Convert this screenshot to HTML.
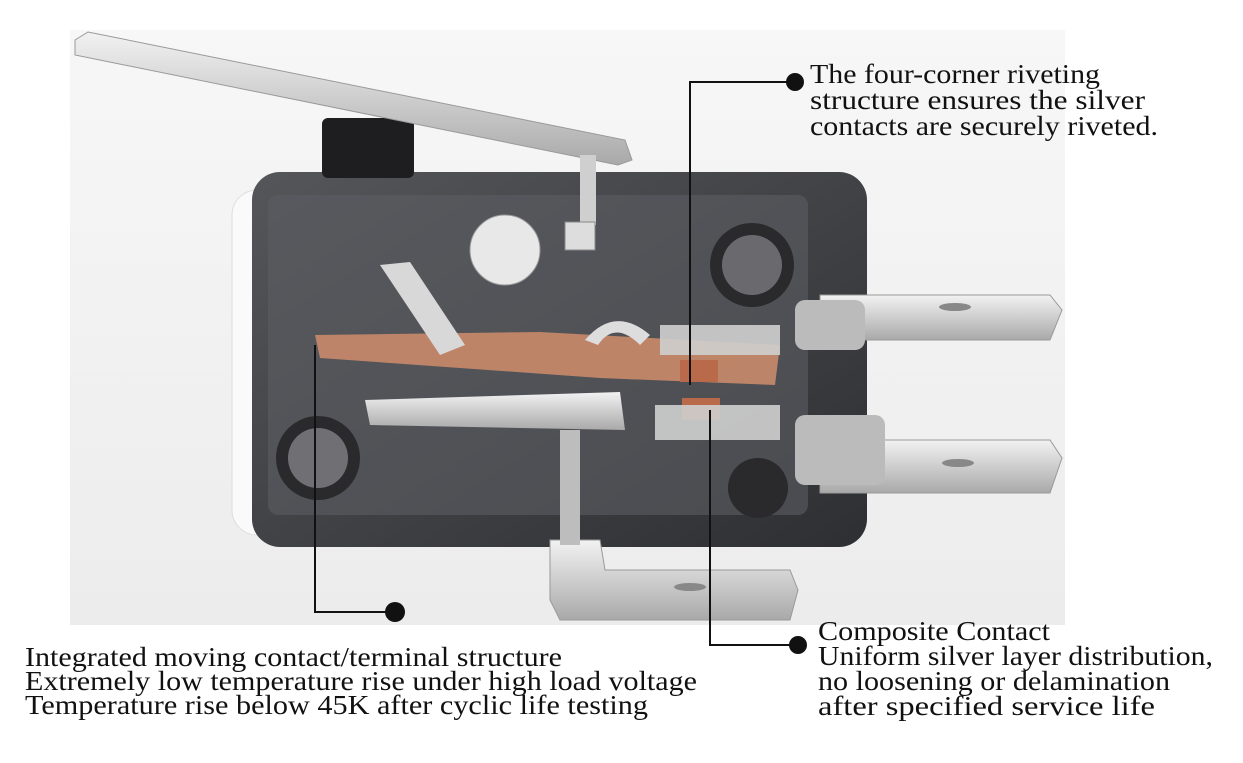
<!DOCTYPE html>
<html><head><meta charset="utf-8"><style>
html,body{margin:0;padding:0;background:#fff;}
svg{display:block;}
text{font-family:"Liberation Serif",serif;font-size:27px;fill:#111;}
</style></head><body>
<svg width="1243" height="763" viewBox="0 0 1243 763" xmlns="http://www.w3.org/2000/svg">
<defs>
<linearGradient id="bg" x1="0" y1="0" x2="0" y2="1"><stop offset="0" stop-color="#f7f7f7"/><stop offset="1" stop-color="#ececec"/></linearGradient>
<linearGradient id="body" x1="0" y1="0" x2="1" y2="1"><stop offset="0" stop-color="#55565a"/><stop offset="1" stop-color="#2e2f33"/></linearGradient>
<linearGradient id="metal" x1="0" y1="0" x2="0" y2="1"><stop offset="0" stop-color="#f2f2f2"/><stop offset="1" stop-color="#a9a9a9"/></linearGradient>
</defs>
<rect x="70" y="30" width="995" height="595" fill="url(#bg)"/>
<!-- white side shell -->
<rect x="232" y="190" width="60" height="345" rx="25" fill="#fafafa" stroke="#ddd"/>
<!-- body -->
<rect x="252" y="172" width="615" height="375" rx="28" fill="url(#body)"/>
<rect x="268" y="195" width="540" height="320" rx="10" fill="#5c5d62" opacity="0.6"/>
<!-- plunger -->
<rect x="322" y="118" width="92" height="60" rx="6" fill="#1e1e20"/>
<!-- lever -->
<polygon points="75,40 88,32 625,140 632,160 618,165 75,55" fill="url(#metal)" stroke="#999"/>
<rect x="580" y="155" width="16" height="70" fill="#cfcfcf"/>
<rect x="565" y="222" width="30" height="28" fill="#ddd" stroke="#888"/>
<!-- holes -->
<circle cx="752" cy="265" r="42" fill="#2a2a2c"/><circle cx="752" cy="265" r="30" fill="#6a6a6e"/>
<circle cx="318" cy="458" r="42" fill="#2a2a2c"/><circle cx="318" cy="458" r="30" fill="#707074"/>
<circle cx="758" cy="488" r="30" fill="#2a2a2c"/>
<circle cx="505" cy="250" r="35" fill="#e8e8e8" stroke="#999"/>
<!-- inner mechanism -->
<polygon points="315,335 540,332 780,345 775,385 600,378 320,358" fill="#c98a6a" opacity="0.9"/>
<polygon points="365,400 620,392 625,430 370,425" fill="url(#metal)"/>
<polygon points="380,265 410,262 465,345 440,355" fill="#d8d8d8"/>
<path d="M585,340 Q615,305 650,335 L640,345 Q615,320 598,345 Z" fill="#ddd"/>
<rect x="680" y="360" width="38" height="22" fill="#b86a4a"/>
<rect x="682" y="398" width="38" height="22" fill="#b86a4a"/>
<rect x="655" y="405" width="125" height="35" fill="#cfcfcf" opacity="0.9"/>
<rect x="660" y="325" width="120" height="30" fill="#cfcfcf" opacity="0.9"/>
<!-- terminals -->
<polygon points="820,295 1050,295 1062,310 1050,340 820,340" fill="url(#metal)" stroke="#999"/>
<ellipse cx="955" cy="307" rx="16" ry="4" fill="#888"/>
<polygon points="820,440 1050,440 1062,458 1050,493 820,493" fill="url(#metal)" stroke="#999"/>
<ellipse cx="958" cy="463" rx="16" ry="4" fill="#888"/>
<rect x="795" y="415" width="90" height="70" rx="10" fill="#bbb"/>
<rect x="795" y="300" width="70" height="50" rx="10" fill="#bbb"/>
<polygon points="550,540 600,540 605,570 790,570 798,590 790,620 560,620 550,600" fill="url(#metal)" stroke="#999"/>
<ellipse cx="690" cy="587" rx="16" ry="4" fill="#888"/>
<rect x="560" y="430" width="20" height="115" fill="#bdbdbd"/>
<!-- connectors -->
<g stroke="#111" stroke-width="2" fill="none">
<polyline points="795,82 690,82 690,385"/>
<polyline points="395,612 315,612 315,345"/>
<polyline points="798,645 710,645 710,410"/>
</g>
<circle cx="795" cy="82" r="9" fill="#111"/>
<circle cx="395" cy="612" r="10" fill="#111"/>
<circle cx="798" cy="645" r="9" fill="#111"/>
<!-- labels -->
<text x="810" y="83" textLength="290" lengthAdjust="spacingAndGlyphs">The four-corner riveting</text>
<text x="810" y="109" textLength="335" lengthAdjust="spacingAndGlyphs">structure ensures the silver</text>
<text x="810" y="135" textLength="348" lengthAdjust="spacingAndGlyphs">contacts are securely riveted.</text>
<text x="818" y="640" textLength="232" lengthAdjust="spacingAndGlyphs">Composite Contact</text>
<text x="818" y="665" textLength="395" lengthAdjust="spacingAndGlyphs">Uniform silver layer distribution,</text>
<text x="818" y="690" textLength="352" lengthAdjust="spacingAndGlyphs">no loosening or delamination</text>
<text x="818" y="715" textLength="337" lengthAdjust="spacingAndGlyphs">after specified service life</text>
<text x="25" y="666" textLength="537" lengthAdjust="spacingAndGlyphs">Integrated moving contact/terminal structure</text>
<text x="25" y="690" textLength="672" lengthAdjust="spacingAndGlyphs">Extremely low temperature rise under high load voltage</text>
<text x="25" y="714" textLength="623" lengthAdjust="spacingAndGlyphs">Temperature rise below 45K after cyclic life testing</text>
</svg>
</body></html>
